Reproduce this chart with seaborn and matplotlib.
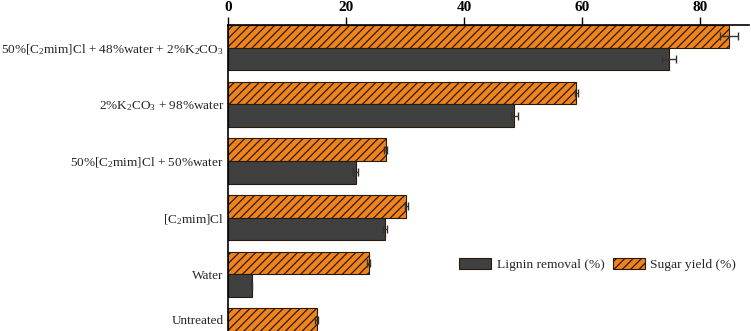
import matplotlib
matplotlib.use("Agg")
import matplotlib.pyplot as plt
import matplotlib.patches as mpatches
import matplotlib.transforms as mtransforms
import seaborn as sns
import pandas as pd
import numpy as np

# values
categories = [
    "50%[C$_2$mim]Cl + 48%water + 2%K$_2$CO$_3$",
    "2%K$_2$CO$_3$ + 98%water",
    "50%[C$_2$mim]Cl + 50%water",
    "[C$_2$mim]Cl",
    "Water",
    "Untreated",
]
sugar_yield = [84.9, 59.0, 26.7, 30.2, 23.8, 15.0]
sugar_err = [1.5, 0.3, 0.2, 0.3, 0.3, 0.2]
lignin_removal = [74.7, 48.5, 21.6, 26.6, 4.0, 0.0]
lignin_err = [1.2, 0.6, 0.4, 0.4, 0.1, 0.0]

sugar_name = "Sugar yield (%)"
lignin_name = "Lignin removal (%)"
orange = "#EF841E"
dark = "#404040"

df = pd.DataFrame({
    "treatment": categories * 2,
    "value": sugar_yield + lignin_removal,
    "series": [sugar_name] * len(categories) + [lignin_name] * len(categories),
})

sns.set_style("white")
plt.rcParams["font.family"] = ["Liberation Serif", "DejaVu Serif"]
plt.rcParams["mathtext.fontset"] = "custom"
plt.rcParams["mathtext.rm"] = "Liberation Serif"
plt.rcParams["mathtext.it"] = "Liberation Serif:italic"
plt.rcParams["hatch.linewidth"] = 0.9

fig = plt.figure(figsize=(7.51, 3.31), dpi=100)
ax = fig.add_axes([0.3036, 0.0, 0.6934, 0.9245])

sns.barplot(data=df, y="treatment", x="value", hue="series",
            hue_order=[sugar_name, lignin_name],
            palette={sugar_name: orange, lignin_name: dark},
            order=categories, orient="h", width=0.8, errorbar=None,
            saturation=1, edgecolor="#2a1a0a", linewidth=0.8, ax=ax, legend=False)

errs = {0: sugar_err, 1: lignin_err}
bar_containers = list(ax.containers)
for k, cont in enumerate(bar_containers):
    ys, ws = [], []
    for bar in cont:
        ys.append(bar.get_y() + bar.get_height() / 2)
        ws.append(bar.get_width())
        if k == 0:
            bar.set_hatch("////")
    ax.errorbar(ws, ys, xerr=errs[k], fmt="none", ecolor="#333333",
                elinewidth=1.0, capsize=3, capthick=1.0, zorder=5)

ax.set_xlim(0, 88.2)
ax.set_ylim(5.0, -0.4)
ax.set_xlabel("")
ax.set_ylabel("")
ax.set_xticks([0, 20, 40, 60, 80])
ax.xaxis.tick_top()
ax.tick_params(axis="x", direction="out", length=6, width=1, pad=2,
               labelsize=11, colors="black")
for t in ax.get_xticklabels():
    t.set_fontweight("bold")
ax.tick_params(axis="y", length=0, pad=3, labelsize=9.5)

# last label sits at the bottom edge, lift it up so it stays visible
last = ax.get_yticklabels()[-1]
last.set_transform(last.get_transform() +
                   mtransforms.ScaledTranslation(0, 0.12, fig.dpi_scale_trans))

for s in ["right", "bottom"]:
    ax.spines[s].set_visible(False)
for s in ["top", "left"]:
    ax.spines[s].set_color("black")
    ax.spines[s].set_linewidth(1.2)

handles = [
    mpatches.Patch(facecolor=dark, edgecolor="#2a1a0a", linewidth=0.8),
    mpatches.Patch(facecolor=orange, edgecolor="#2a1a0a", linewidth=0.8, hatch="////"),
]
ax.legend(handles, [lignin_name, sugar_name], loc="center",
          bbox_to_anchor=(0.71, 0.218), ncol=2, frameon=False,
          fontsize=9.7, handlelength=2.4, handleheight=0.95,
          columnspacing=0.6, handletextpad=0.4)

fig.savefig("out.png", dpi=100)
